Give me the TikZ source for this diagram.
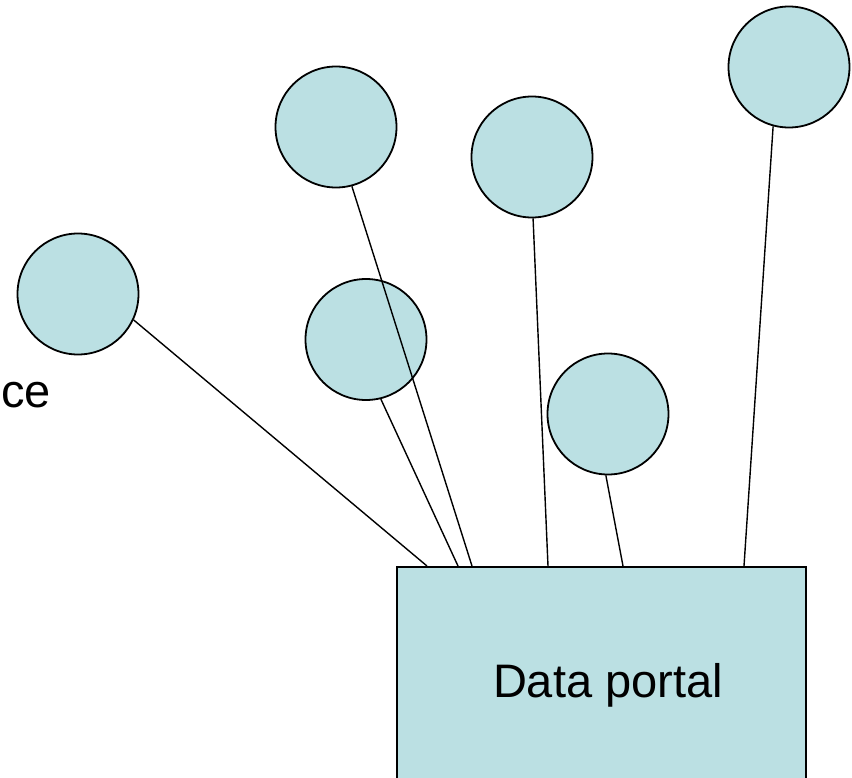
\documentclass[tikz,border=0pt]{standalone}
\usepackage{fontspec}
\setmainfont{Liberation Sans}
\definecolor{paleblue}{RGB}{187,224,227}

\begin{document}
\begin{tikzpicture}[x=1pt, y=-1pt,
		bubble/.style={circle, draw, fill=paleblue, line width=1.8pt, minimum size=121pt, inner sep=0pt},
		portalbox/.style={rectangle, draw, fill=paleblue, line width=1.8pt, minimum width=409pt, minimum height=238pt, inner sep=0pt},
		label/.style={inner sep=0pt, font=\fontsize{47}{56}\selectfont},
		link/.style={line width=1.4pt}
		]
		\clip (0,0) rectangle (852,777);
		
		\node[bubble](S1) at (78,294){};
		\node[bubble](S2) at (336,127){};
		\node[bubble](S3) at (366,339.5){};
		\node[bubble](S4) at (532,157){};
		\node[bubble](S5) at (608,414){};
		\node[bubble](S6) at (789,67){};
		
		\node[portalbox, anchor=north west](P) at (396,566){};
		\node[label, anchor=base](PL) at (608,697){Data portal};
		\node[label, anchor=base east](T) at (51,407){ce};
		
		\draw[link] (S1.-25) -- ([xshift=31pt]P.north west);
		\draw[link] (S2.-75) -- ([xshift=76pt]P.north west);
		\draw[link] (S3.-76) -- ([xshift=62pt]P.north west);
		\draw[link] (S4.-89) -- ([xshift=152pt]P.north west);
		\draw[link] (S5.-92) -- ([xshift=227pt]P.north west);
		\draw[link] (S6.-105) -- ([xshift=348pt]P.north west);
		
	\end{tikzpicture}
\end{document}
